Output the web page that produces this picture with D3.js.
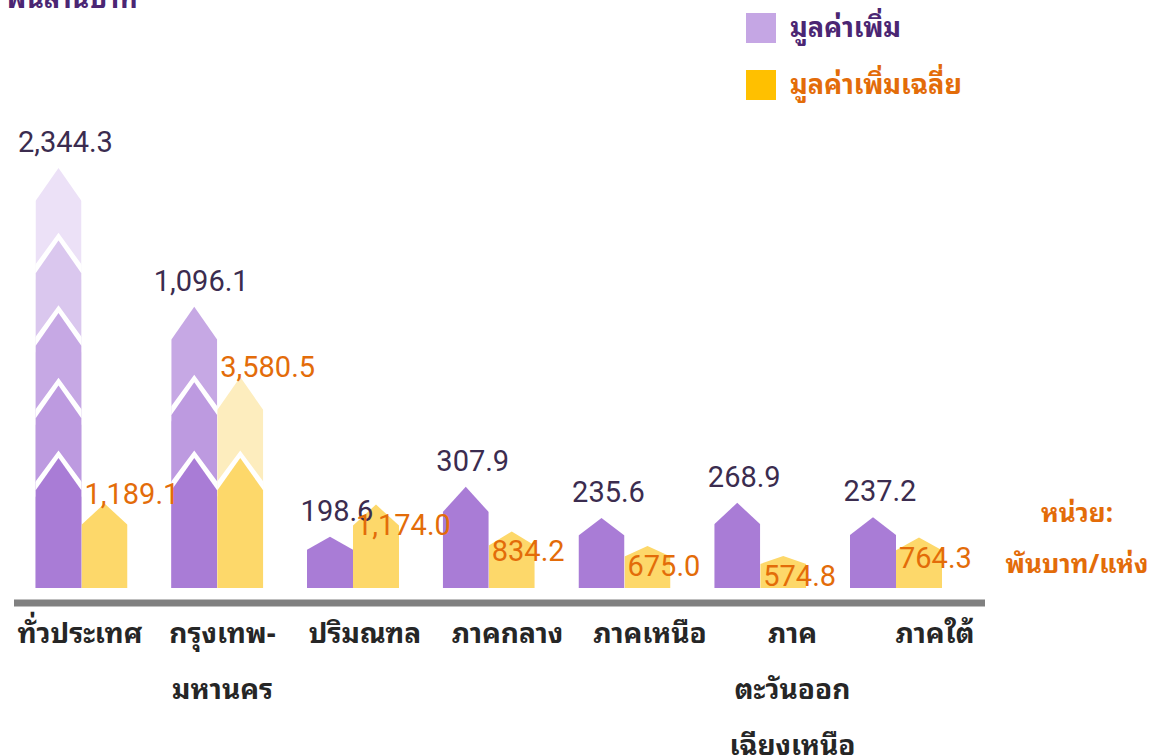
<!DOCTYPE html>
<html>
<head>
<meta charset="utf-8">
<script src="https://cdn.jsdelivr.net/npm/d3@7"></script>
<style>
  body { margin: 0; background: #fff; }
  svg { display: block; }
  .num { font-family: Roboto, "Noto Sans", sans-serif; font-size: 29px; }
  .thai { font-family: "Noto Sans Thai Looped", Garuda, Loma, Tahoma, "Noto Sans Thai", "Noto Sans", sans-serif; }
</style>
</head>
<body>
<svg id="chart" width="1162" height="756"></svg>
<script>
const regions = ["ทั่วประเทศ", "กรุงเทพมหานคร", "ปริมณฑล", "ภาคกลาง", "ภาคเหนือ", "ภาคตะวันออกเฉียงเหนือ", "ภาคใต้"]
const regionLines = [["ทั่วประเทศ"], ["กรุงเทพ-", "มหานคร"], ["ปริมณฑล"], ["ภาคกลาง"], ["ภาคเหนือ"], ["ภาค", "ตะวันออก", "เฉียงเหนือ"], ["ภาคใต้"]]
const valueAdded = [2344.3, 1096.1, 198.6, 307.9, 235.6, 268.9, 237.2]       // พันล้านบาท
const avgValueAdded = [1189.1, 3580.5, 1174.0, 834.2, 675.0, 574.8, 764.3]  // พันบาท/แห่ง
const seriesNames = ["มูลค่าเพิ่ม", "มูลค่าเพิ่มเฉลี่ย"]

const purpleShades = ["#A97CD6", "#BD9AE0", "#C6A8E4", "#DAC7EE", "#ECE1F7"]
const yellowShades = ["#FDD86A", "#FDEDBE"]

const svg = d3.select('#chart')
const baseY = 588
const barW = 46

// the source is not drawn to a linear scale, so each series gets its own
const xPair = d3.scalePoint().domain(regions).range([81.5, 896])
const xLabel = d3.scalePoint().domain(regions).range([80, 935])
const hPurple = d3.scalePow().exponent(0.25).domain([120, d3.max(valueAdded)]).range([0, 420])
const hYellow = d3.scalePow().exponent(0.5).domain([308, d3.max(avgValueAdded)]).range([0, 211])

function segments(h) {
    // tall bars are cut into stacked chevrons
    if (h < 160) return [h]
    const n = Math.round((h - 130) / 73)
    const step = (h - 130) / n
    return [130].concat(d3.range(1, n + 1).map(i => 130 + i * step))
}
function roof(h) { return Math.min(33, h * 0.25) }
function arrowPath(x, h) {
    const r = roof(h)
    return `M${x},${baseY} V${baseY - h + r} L${x + barW / 2},${baseY - h} L${x + barW},${baseY - h + r} V${baseY} Z`
}
function chevronPath(x, h) {
    const r = roof(h)
    return `M${x - 4},${baseY - h + r + 4} L${x + barW / 2},${baseY - h} L${x + barW + 4},${baseY - h + r + 4}`
}

const defs = svg.append('defs')
const bars = svg.append('g').attr('class', 'bars')

function drawBar(id, x, h, shades) {
    defs.append('clipPath').attr('id', id)
        .append('rect').attr('x', x).attr('y', 0).attr('width', barW).attr('height', baseY)
    const g = bars.append('g').attr('clip-path', `url(#${id})`)
    const segs = segments(h)
    for (let i = segs.length - 1; i >= 0; i--) {
        if (i < segs.length - 1) {
            g.append('path')
                .attr('d', chevronPath(x, segs[i]))
                .attr('fill', 'none')
                .attr('stroke', '#fff')
                .attr('stroke-width', 9)
        }
        g.append('path')
            .attr('d', arrowPath(x, segs[i]))
            .attr('fill', shades[i])
    }
}

regions.forEach((r, k) => {
    drawBar('cp' + k, xPair(r) - barW, hPurple(valueAdded[k]), purpleShades)
    drawBar('cy' + k, xPair(r), hYellow(avgValueAdded[k]), yellowShades)
})

const fmt = d3.format(',.1f')

// value labels
svg.append('g').selectAll('text')
    .data(regions)
    .enter()
    .append('text')
    .attr('class', 'num')
    .attr('x', d => xPair(d) - barW / 2 + 7)
    .attr('y', (d, i) => baseY - hPurple(valueAdded[i]) - 16)
    .attr('text-anchor', 'middle')
    .attr('fill', '#3B2C4F')
    .text((d, i) => fmt(valueAdded[i]))

svg.append('g').selectAll('text')
    .data(regions)
    .enter()
    .append('text')
    .attr('class', 'num')
    .attr('x', d => xPair(d) + 3)
    .attr('y', (d, i) => {
        const tip = baseY - hYellow(avgValueAdded[i])
        // next to the segmented purple bars the label rides above the tip
        return segments(hPurple(valueAdded[i])).length > 1 ? tip : tip + 30
    })
    .attr('fill', '#E36C09')
    .text((d, i) => fmt(avgValueAdded[i]))

// baseline
svg.append('line')
    .attr('x1', 14).attr('x2', 985)
    .attr('y1', 603).attr('y2', 603)
    .attr('stroke', '#808080')
    .attr('stroke-width', 7)

// category labels
const cat = svg.append('g').selectAll('text')
    .data(regions)
    .enter()
    .append('text')
    .attr('class', 'thai')
    .attr('x', d => xLabel(d))
    .attr('y', 643)
    .attr('text-anchor', 'middle')
    .attr('font-size', 28)
    .attr('font-weight', 'bold')
    .attr('fill', '#262626')
cat.each(function (d, i) {
    d3.select(this).selectAll('tspan')
        .data(regionLines[i])
        .enter()
        .append('tspan')
        .attr('x', xLabel(d))
        .attr('dy', (l, j) => j === 0 ? 0 : 56)
        .text(l => l)
})

// unit title, top left
svg.append('text')
    .attr('class', 'thai')
    .attr('x', 6).attr('y', 8)
    .attr('font-size', 27)
    .attr('font-weight', 'bold')
    .attr('fill', '#4B2673')
    .text('พันล้านบาท')

// legend
const legendColors = ["#C5A6E4", "#FFC000"]
const legendText = ["#4B2673", "#E36C09"]
const legend = svg.append('g').selectAll('g')
    .data(seriesNames)
    .enter()
    .append('g')
    .attr('transform', (d, i) => `translate(746, ${13 + i * 57})`)
legend.append('rect')
    .attr('width', 30).attr('height', 30)
    .attr('fill', (d, i) => legendColors[i])
legend.append('text')
    .attr('class', 'thai')
    .attr('x', 44).attr('y', 24)
    .attr('font-size', 27)
    .attr('font-weight', 'bold')
    .attr('fill', (d, i) => legendText[i])
    .text(d => d)

// unit of the average series
svg.append('g').selectAll('text')
    .data(['หน่วย:', 'พันบาท/แห่ง'])
    .enter()
    .append('text')
    .attr('class', 'thai')
    .attr('x', 1077)
    .attr('y', (d, i) => 522 + i * 51)
    .attr('text-anchor', 'middle')
    .attr('font-size', 26)
    .attr('font-weight', 'bold')
    .attr('fill', '#E36C09')
    .text(d => d)
</script>
</body>
</html>
